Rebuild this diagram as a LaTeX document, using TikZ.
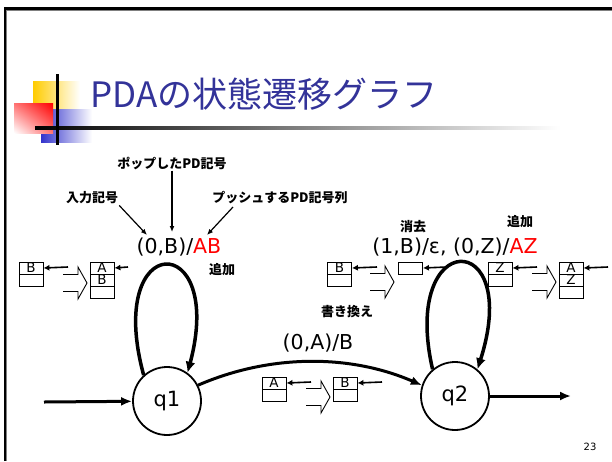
\documentclass[tikz,border=0pt]{standalone}
\usepackage{fontspec}
\setmainfont{DejaVu Sans}
\newfontfamily\jp{Noto Sans CJK JP}
\usetikzlibrary{arrows.meta,shadings}
\definecolor{titleblue}{HTML}{333399}
\definecolor{decoyellow}{HTML}{FFCC00}
\definecolor{decoblue}{HTML}{3333CC}
\definecolor{decored}{HTML}{FF0000}
\newcommand\hollowarrow[2]{\draw[hollowline, shift={(#1,#2)}] (0,-8.5) -- (15,-8.5) -- (15,-16) -- (24,0) -- (15,16) -- (15,8.5) -- (0,8.5);}
\begin{document}
\begin{tikzpicture}[x=1pt,y=-1pt,
  cell/.style={draw, line width=0.8pt, minimum width=24pt, minimum height=12pt, inner sep=0pt, font=\fontsize{13.5}{13.5}\selectfont},
  lbl/.style={font=\jp\bfseries\fontsize{13}{15}\selectfont, inner sep=1pt},
  trans/.style={font=\fontsize{20.5}{24}\selectfont, inner sep=0pt},
  state/.style={circle, draw, line width=1.8pt, minimum size=68pt, inner sep=0pt, font=\fontsize{21}{24}\selectfont},
  mainarrow/.style={line width=3pt, -{Latex[length=11pt,width=9pt]}},
  looparrow/.style={line width=3.5pt, -{Latex[length=11pt,width=10pt]}},
  smallarrow/.style={line width=1.6pt, -{Latex[length=6pt,width=6pt]}},
  labarrow/.style={line width=1.2pt, -{Latex[length=6pt,width=5pt]}},
  hollowline/.style={line width=0.9pt, line join=miter}
]
\useasboundingbox (0,0) rectangle (612,461);
% slide frame
\draw[line width=2.5pt] (5,461) -- (5,8.5) -- (612,8.5);
\draw[gray, line width=1pt] (6.8,461) -- (6.8,10.5) -- (612,10.5);
% title decoration
\shade[left color=decoyellow, middle color=decoyellow, right color=white] (33,81) rectangle (80,110);
\shade[left color=decoblue, middle color=decoblue, right color=white] (41,109) rectangle (92,142);
\shade[upper right=decored, upper left=decored!55!white, lower right=decored!55!white, lower left=white] (14,103) rectangle (53,133);
\shade[left color=black, right color=white] (35,126.8) rectangle (560,129.6);
\draw[line width=3pt] (57,74) -- (57,145);
\node[anchor=base west, inner sep=0pt, font=\jp\fontsize{35}{40}\selectfont, text=titleblue] (title) at (90,107) {PDAの状態遷移グラフ};

% states
\node[state] (q1) at (167,401) {q1};
\node[state] (q2) at (455,396) {q2};
\coordinate (init) at (44,402);
\coordinate (fin) at (571,396);
\draw[mainarrow] (init) -- (q1);
\draw[mainarrow] (q2) -- (fin);
\draw[mainarrow] (q1.27) .. controls (270,354) and (350,354) .. (q2.162);
\draw[looparrow] (q1.132) .. controls (104,229) and (226,229) .. (q1.54);
\draw[looparrow] (q2.130) .. controls (400,227) and (523,227) .. (q2.50);

% transition labels
\node[trans] (t1) at (179,247) {(0,B)/\textcolor{red}{AB}};
\node[trans] (t2) at (455,247) {(1,B)/ε, (0,Z)/\textcolor{red}{AZ}};
\node[trans] (t3) at (318,343) {(0,A)/B};

% annotation labels
\node[lbl] (pop) at (172,163) {ポップしたPD記号};
\node[lbl] (inp) at (92,198) {入力記号};
\node[lbl] (push) at (280,198) {プッシュするPD記号列};
\node[lbl] (add1) at (222,270) {追加};
\node[lbl] (del) at (413,227) {消去};
\node[lbl] (add2) at (520,222) {追加};
\node[lbl] (rw) at (347,312) {書き換え};
\coordinate (tinp) at (147,235);
\coordinate (tpop) at (172,232);
\coordinate (tpush) at (207,235);
\coordinate (spush) at (233,207);
\draw[labarrow] (inp.south east) -- (tinp);
\draw[labarrow] (pop.south) -- (tpop);
\draw[labarrow] (spush) -- (tpush);

% left stacks
\node[cell] (l1a) at (31,268) {B};
\node[cell] (l1b) at (31,280) {};
\node[cell] (l2a) at (102,268) {A};
\node[cell] (l2b) at (102,280) {B};
\node[cell] (l2c) at (102,292) {};
\coordinate (al1) at (68,267);
\coordinate (al2) at (128,267);
\draw[smallarrow] (al1) -- (l1a.east);
\draw[smallarrow] (al2) -- (l2a.east);
\hollowarrow{63}{283}

% right stacks
\node[cell] (r1a) at (339.5,268) {B};
\node[cell] (r1b) at (339.5,280) {};
\node[cell] (r2a) at (410.5,268) {};
\node[cell] (r3a) at (500,268) {Z};
\node[cell] (r3b) at (500,280) {};
\node[cell] (r4a) at (571,268) {A};
\node[cell] (r4b) at (571,280) {Z};
\node[cell] (r4c) at (571,292) {};
\coordinate (ar1) at (377,267);
\coordinate (ar2) at (447,267);
\coordinate (ar3) at (537,267);
\coordinate (ar4) at (608,267);
\draw[smallarrow] (ar1) -- (r1a.east);
\draw[smallarrow] (ar2) -- (r2a.east);
\draw[smallarrow] (ar3) -- (r3a.east);
\draw[smallarrow] (ar4) -- (r4a.east);
\hollowarrow{370}{282}
\hollowarrow{532}{282}

% middle stacks
\node[cell] (m1a) at (274,383) {A};
\node[cell] (m1b) at (274,395) {};
\node[cell] (m2a) at (345,383) {B};
\node[cell] (m2b) at (345,395) {};
\coordinate (am1) at (311,382);
\coordinate (am2) at (382,382);
\draw[smallarrow] (am1) -- (m1a.east);
\draw[smallarrow] (am2) -- (m2a.east);
\hollowarrow{306}{397}

\node[font=\fontsize{10}{12}\selectfont] (pg) at (590,447) {23};
\end{tikzpicture}
\end{document}
